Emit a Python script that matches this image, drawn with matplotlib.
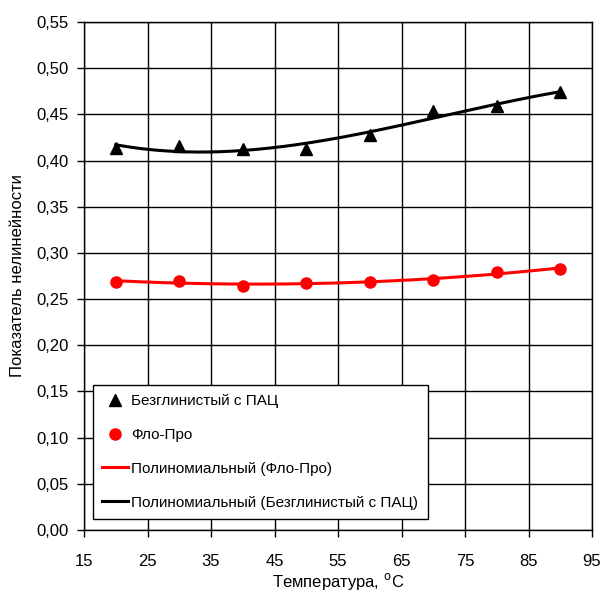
import numpy as np
import matplotlib
matplotlib.use("Agg")
import matplotlib.pyplot as plt
from matplotlib.ticker import FuncFormatter, MultipleLocator
from matplotlib.lines import Line2D

plt.rcParams['font.family'] = ['Liberation Sans', 'DejaVu Sans']

temperature = [20, 30, 40, 50, 60, 70, 80, 90]
bezglin_pac = [0.414, 0.416, 0.412, 0.412, 0.428, 0.454, 0.459, 0.474]
flo_pro = [0.269, 0.270, 0.264, 0.267, 0.269, 0.271, 0.279, 0.283]
x_ticks = [15, 25, 35, 45, 55, 65, 75, 85, 95]

label_bez = "Безглинистый с ПАЦ"
label_flo = "Фло-Про"
label_poly_flo = "Полиномиальный (Фло-Про)"
label_poly_bez = "Полиномиальный (Безглинистый с ПАЦ)"

fig = plt.figure(figsize=(6.03, 5.96), dpi=100)
ax = fig.add_axes([84/603, 1-530/596, (592-84)/603, (530-22)/596])

x = np.array(temperature, dtype=float)
xs = np.linspace(20, 90, 200)
p_bez = np.polyfit(x, bezglin_pac, 3)
p_flo = np.polyfit(x, flo_pro, 2)

ax.plot(xs, np.polyval(p_flo, xs), color='#ff0000', lw=2.2, zorder=3)
ax.plot(xs, np.polyval(p_bez, xs), color='black', lw=2.2, zorder=3)
ax.plot(temperature, bezglin_pac, linestyle='none', marker='^', color='black', markersize=8, zorder=4)
ax.plot(temperature, flo_pro, linestyle='none', marker='o', color='#ff0000', markersize=8, zorder=4)

ax.set_xlim(15, 95)
ax.set_ylim(0, 0.55)
ax.set_xticks(x_ticks)
ax.yaxis.set_major_locator(MultipleLocator(0.05))
ax.yaxis.set_major_formatter(FuncFormatter(lambda v, p: f"{v:.2f}".replace('.', ',')))
ax.grid(True, color='black', lw=1.0)
ax.set_axisbelow(True)
for s in ax.spines.values():
    s.set_color('black')
    s.set_linewidth(1.0)
ax.tick_params(direction='out', length=5, width=1, labelsize=12, colors='black')
ax.tick_params(axis='x', pad=12)
ax.tick_params(axis='y', pad=6)

ax.set_xlabel("Температура, $^{\\mathrm{o}}$C", fontsize=12, labelpad=2)
ax.set_ylabel("Показатель нелинейности", fontsize=12, labelpad=8)

handles = [
    Line2D([], [], linestyle='none', marker='^', color='black', markersize=8),
    Line2D([], [], linestyle='none', marker='o', color='#ff0000', markersize=8),
    Line2D([], [], color='#ff0000', lw=2.2),
    Line2D([], [], color='black', lw=2.2),
]
leg = ax.legend(handles, [label_bez, label_flo, label_poly_flo, label_poly_bez],
                loc='lower left', bbox_to_anchor=(0.018, 0.022), borderaxespad=0,
                fontsize=11,
                frameon=True, fancybox=False, edgecolor='black', framealpha=1,
                handlelength=1.7, handletextpad=0.2, labelspacing=1.3, borderpad=0.6)
leg.get_frame().set_linewidth(1.0)

fig.savefig("out.png", dpi=100)
